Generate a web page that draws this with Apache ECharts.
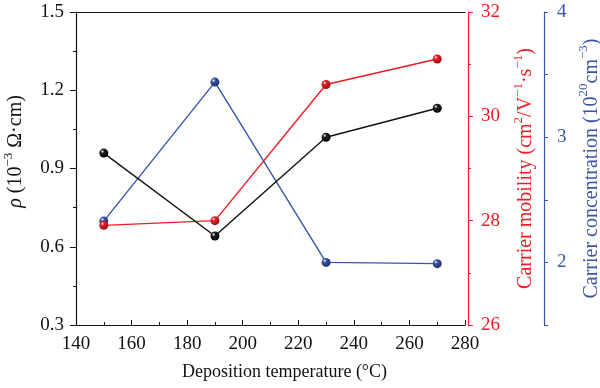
<!DOCTYPE html>
<html><head><meta charset="utf-8">
<script src="https://cdn.jsdelivr.net/npm/echarts@6/dist/echarts.min.js"></script>
<style>html,body{margin:0;padding:0;background:#fff}#c{width:600px;height:388px}</style>
</head><body><div id="c"></div>
<script>
const temps = [150, 190, 230, 270];
const resistivity = [0.959, 0.641, 1.020, 1.131];
const mobility = [27.91, 28.00, 30.61, 31.10];
const concentration = [2.33, 3.44, 2.00, 1.99];
const xTicks = [140, 160, 180, 200, 220, 240, 260, 280];
const rhoTicks = [0.3, 0.6, 0.9, 1.2, 1.5];
const mobTicks = [26, 28, 30, 32];
const concTicks = [2, 3, 4];
const concAllTicks = [1.5, 2, 2.5, 3, 3.5, 4];

const FONT = 'Liberation Serif';
const BLACK = '#111111', RED = '#ee1c25', BLUE = '#3a55a5';
const FS = 19, NFS = 20;

function ball(col, dark) {
  return {type:'radial', x:0.35, y:0.32, r:0.7,
    colorStops:[{offset:0,color:'#ffffff'},{offset:0.28,color:col},{offset:1,color:dark}]};
}
function rich(color) {
  return {
    n:{fontFamily:FONT,fontSize:NFS,color:color,lineHeight:24,verticalAlign:'bottom'},
    i:{fontFamily:FONT,fontSize:NFS,color:color,fontStyle:'italic',lineHeight:24,verticalAlign:'bottom'},
    s:{fontFamily:FONT,fontSize:13,color:color,lineHeight:13,verticalAlign:'top'}
  };
}
const pairs = (ys) => temps.map((t,i)=>[t, ys[i]]);

const chart = echarts.init(document.getElementById('c'), null, {renderer:'canvas'});
chart.setOption({
  animation:false,
  backgroundColor:'#fff',
  grid:{left:76, right:135, top:12, bottom:63, show:false, containLabel:false, outerBoundsMode:'none'},
  xAxis:[{
    type:'value', min:xTicks[0], max:xTicks[xTicks.length-1], interval:20, position:'bottom',
    name:'Deposition temperature (°C)', nameLocation:'middle', nameGap:38,
    nameTextStyle:{fontFamily:FONT, fontSize:18, color:BLACK, padding:[0,0,0,28]},
    axisLine:{lineStyle:{color:BLACK,width:1.2}},
    axisTick:{inside:true, length:5, lineStyle:{color:BLACK}},
    minorTick:{show:true, splitNumber:2, length:3, lineStyle:{color:BLACK}},
    axisLabel:{fontFamily:FONT, fontSize:FS, color:BLACK, margin:10},
    splitLine:{show:false}
  },{
    type:'value', min:xTicks[0], max:xTicks[xTicks.length-1], interval:20, position:'top',
    axisLine:{show:true,lineStyle:{color:BLACK,width:1.2}},
    axisTick:{show:false}, axisLabel:{show:false}, splitLine:{show:false}
  }],
  yAxis:[
    {type:'value', min:rhoTicks[0], max:rhoTicks[rhoTicks.length-1], interval:0.3, position:'left',
     name:'{i|ρ}{n| (10}{s|−3}{n| Ω·cm)}', nameLocation:'middle', nameGap:50, nameRotate:90,
     nameTextStyle:{fontFamily:FONT,fontSize:NFS,color:BLACK,rich:rich(BLACK),padding:[0,0,0,34]},
     axisLine:{show:true,lineStyle:{color:BLACK,width:1.2}},
     axisTick:{show:true,length:6,lineStyle:{color:BLACK}},
     minorTick:{show:true,splitNumber:2,length:3,lineStyle:{color:BLACK}},
     axisLabel:{fontFamily:FONT,fontSize:FS,color:BLACK,margin:12,formatter:v=>v.toFixed(1)},
     splitLine:{show:false}},
    {type:'value', min:mobTicks[0], max:mobTicks[mobTicks.length-1], interval:2, position:'right', offset:3,
     name:'{n|Carrier mobility (cm}{s|2}{n|/V}{s|−1}{n|·s}{s|−1}{n|)}', nameLocation:'middle', nameGap:44, nameRotate:90,
     nameTextStyle:{fontFamily:FONT,fontSize:NFS,color:RED,rich:rich(RED)},
     axisLine:{show:true,lineStyle:{color:RED,width:1.2}},
     axisTick:{show:true,length:5,lineStyle:{color:RED}},
     minorTick:{show:true,splitNumber:2,length:3,lineStyle:{color:RED}},
     axisLabel:{fontFamily:FONT,fontSize:FS,color:RED,margin:13},
     splitLine:{show:false}},
    {type:'value', min:1.5, max:concTicks[concTicks.length-1], position:'right', offset:79,
     name:'{n|Carrier concentration (10}{s|20}{n|cm}{s|−3}{n|)}', nameLocation:'middle', nameGap:27, nameRotate:90,
     nameTextStyle:{fontFamily:FONT,fontSize:NFS,color:BLUE,rich:rich(BLUE)},
     axisLine:{show:true,lineStyle:{color:BLUE,width:1.2}},
     axisTick:{show:true,length:4,customValues:concAllTicks,lineStyle:{color:BLUE}},
     axisLabel:{fontFamily:FONT,fontSize:FS,color:BLUE,margin:13,customValues:concTicks},
     splitLine:{show:false}}
  ],
  series:[
    {type:'line', yAxisIndex:2, data:pairs(concentration), symbol:'circle', symbolSize:9,
     lineStyle:{color:BLUE,width:1.4}, itemStyle:{color:ball(BLUE,'#1d2f6e')}},
    {type:'line', yAxisIndex:1, data:pairs(mobility), symbol:'circle', symbolSize:9,
     lineStyle:{color:RED,width:1.4}, itemStyle:{color:ball(RED,'#9a0c10')}},
    {type:'line', yAxisIndex:0, data:pairs(resistivity), symbol:'circle', symbolSize:9,
     lineStyle:{color:BLACK,width:1.4}, itemStyle:{color:ball('#222','#000')}}
  ]
});
</script></body></html>
